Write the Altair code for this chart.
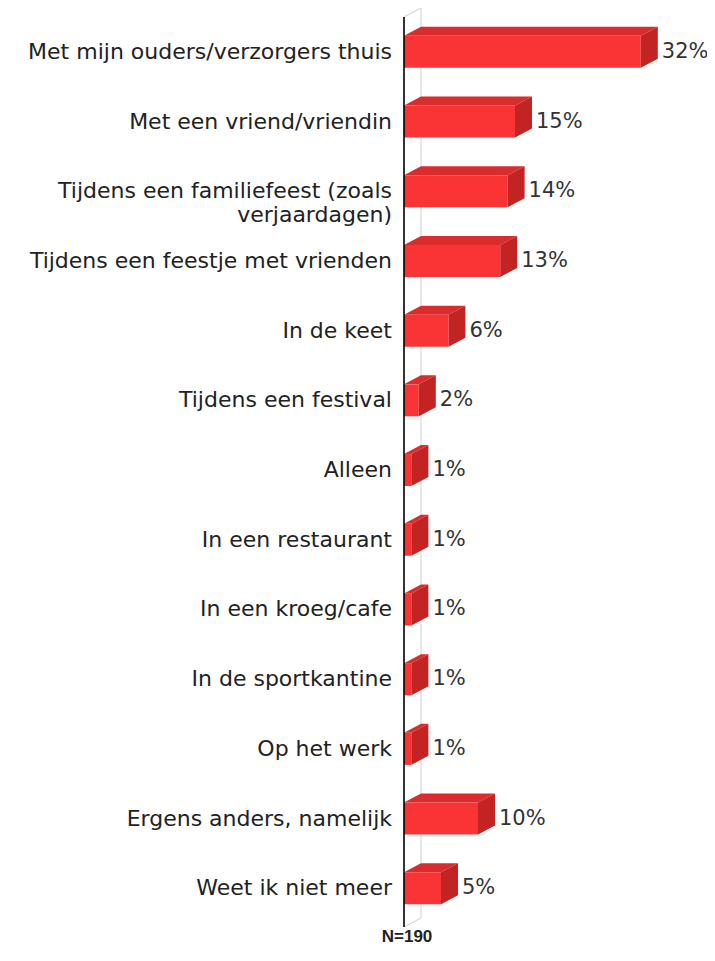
import altair as alt
import pandas as pd

# ---- data ----
categories = [
    "Met mijn ouders/verzorgers thuis",
    "Met een vriend/vriendin",
    "Tijdens een familiefeest (zoals\nverjaardagen)",
    "Tijdens een feestje met vrienden",
    "In de keet",
    "Tijdens een festival",
    "Alleen",
    "In een restaurant",
    "In een kroeg/cafe",
    "In de sportkantine",
    "Op het werk",
    "Ergens anders, namelijk",
    "Weet ik niet meer",
]
values = [32, 15, 14, 13, 6, 2, 1, 1, 1, 1, 1, 10, 5]
sample_note = "N=190"

# ---- style / geometry constants ----
PX_PER_PCT = 7.4
PLOT_W, PLOT_H = 290, 910
X_MAX = PLOT_W / PX_PER_PCT
ROW_PX = 69.7
Y_MAX = PLOT_H / ROW_PX          # rows in view
FACE_HALF = 16 / ROW_PX          # half height of the front face (rows)
DEPTH_X = 17 / PX_PER_PCT        # 3D depth in x (percent units)
DEPTH_Y = 9 / ROW_PX             # 3D depth in y (row units)

FRONT = "#fa3434"
TOP = "#d92c2c"
SIDE = "#c22323"
TEXT = "#222222"

rows = []
for i, (c, v) in enumerate(zip(categories, values)):
    ctr = i + 0.5
    rows.append(dict(cat=c, v=v, z=0.0, ctr=ctr, y0=ctr - FACE_HALF, y1=ctr + FACE_HALF,
                     lab=f"{v}%", labx=v + DEPTH_X))
df = pd.DataFrame(rows)

top_rows = []
side_rows = []
for r in rows:
    top_rows.append(dict(cat=r["cat"], yy=r["y0"], xa=0.0, xb=r["v"]))
    top_rows.append(dict(cat=r["cat"], yy=r["y0"] - DEPTH_Y, xa=DEPTH_X, xb=r["v"] + DEPTH_X))
    side_rows.append(dict(cat=r["cat"], xx=r["v"], ya=r["y0"], yb=r["y1"]))
    side_rows.append(dict(cat=r["cat"], xx=r["v"] + DEPTH_X, ya=r["y0"] - DEPTH_Y, yb=r["y1"] - DEPTH_Y))
df_top = pd.DataFrame(top_rows)
df_side = pd.DataFrame(side_rows)

# 3D frame: back wall (grey) and front axis (black)
df_wall = pd.DataFrame([
    dict(x=DEPTH_X, y=-DEPTH_Y, x2=DEPTH_X, y2=Y_MAX - DEPTH_Y),
    dict(x=0.0, y=0.0, x2=DEPTH_X, y2=-DEPTH_Y),
    dict(x=0.0, y=Y_MAX, x2=DEPTH_X, y2=Y_MAX - DEPTH_Y),
])
df_axis = pd.DataFrame([dict(x=0.0, y=0.0, x2=0.0, y2=Y_MAX)])

xs = alt.Scale(domain=[0, X_MAX], nice=False, zero=False)
ys = alt.Scale(domain=[0, Y_MAX], nice=False, zero=False, reverse=True)

wall = alt.Chart(df_wall).mark_rule(color="#cfcfcf", strokeWidth=1).encode(
    x=alt.X("x:Q", scale=xs, axis=None),
    y=alt.Y("y:Q", scale=ys, axis=None),
    x2="x2:Q", y2="y2:Q",
)

top = alt.Chart(df_top).mark_area(orient="horizontal", color=TOP).encode(
    y=alt.Y("yy:Q", scale=ys, axis=None),
    x=alt.X("xa:Q", scale=xs, axis=None, stack=None),
    x2="xb:Q",
    detail="cat:N",
)

side = alt.Chart(df_side).mark_area(orient="vertical", color=SIDE).encode(
    x=alt.X("xx:Q", scale=xs, axis=None),
    y=alt.Y("ya:Q", scale=ys, axis=None, stack=None),
    y2="yb:Q",
    detail="cat:N",
)

front = alt.Chart(df).mark_bar(color=FRONT).encode(
    x=alt.X("z:Q", scale=xs, axis=None),
    x2="v:Q",
    y=alt.Y("y0:Q", scale=ys, axis=None),
    y2="y1:Q",
)

axis_line = alt.Chart(df_axis).mark_rule(color="#000000", strokeWidth=1.6).encode(
    x=alt.X("x:Q", scale=xs, axis=None),
    y=alt.Y("y:Q", scale=ys, axis=None),
    x2="x2:Q", y2="y2:Q",
)

cat_text = alt.Chart(df).mark_text(
    align="right", baseline="middle", lineBreak="\n", lineHeight=24,
    font="DejaVu Sans", fontSize=22, color=TEXT, dx=-12,
).encode(
    x=alt.X("z:Q", scale=xs, axis=None),
    y=alt.Y("ctr:Q", scale=ys, axis=None),
    text="cat:N",
)

val_text = alt.Chart(df).mark_text(
    align="left", baseline="middle", font="DejaVu Sans", fontSize=21,
    color="#333333", dx=4,
).encode(
    x=alt.X("labx:Q", scale=xs, axis=None),
    y=alt.Y("ctr:Q", scale=ys, axis=None),
    text="lab:N",
)

chart = alt.layer(wall, top, side, front, axis_line, cat_text, val_text).properties(
    width=PLOT_W,
    height=PLOT_H,
    padding={"left": 396, "top": 9, "right": 13, "bottom": 21},
    autosize="none",
    background="white",
    title=alt.TitleParams(
        text=sample_note, orient="bottom", anchor="start", align="center",
        frame="group", dx=3, offset=1, baseline="top", font="Liberation Sans",
        fontSize=17, fontWeight="bold", color=TEXT,
    ),
).configure_view(strokeWidth=0, stroke="transparent")

chart.save("out.html", embed_options={"renderer": "svg", "actions": False})
